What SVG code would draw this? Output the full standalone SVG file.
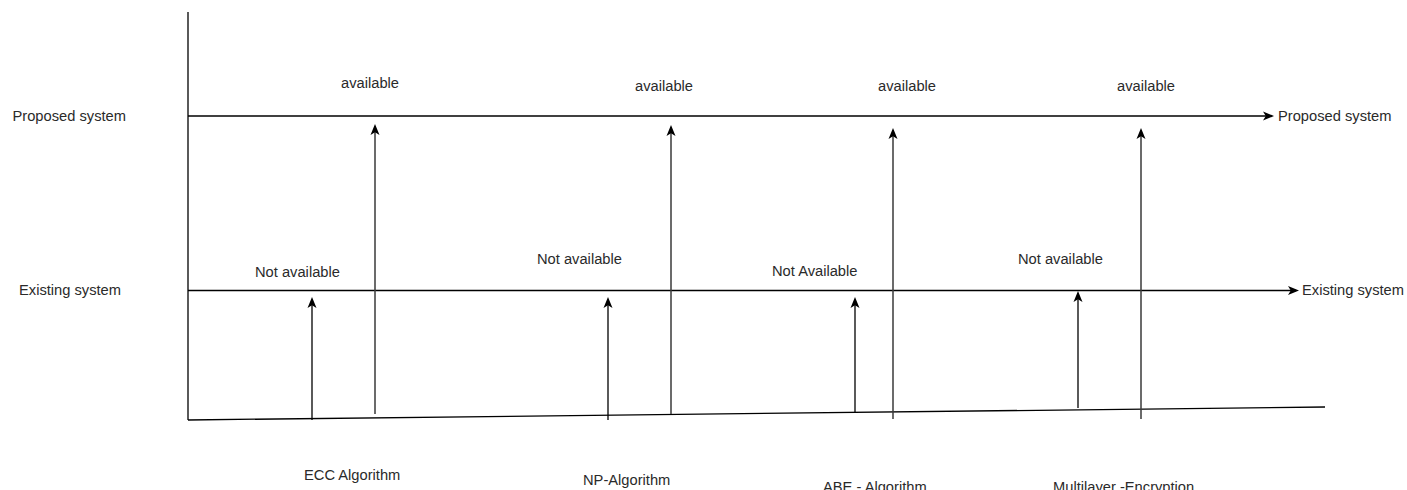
<svg xmlns="http://www.w3.org/2000/svg" width="1407" height="490" viewBox="0 0 1407 490">
<style>
text{font-family:"Liberation Sans",Arial,sans-serif;font-size:14.7px;fill:#2a2a2a}
.ln{stroke:#000;stroke-width:1.3;fill:none}
.ar{stroke:#000;stroke-width:1.3;fill:none;marker-end:url(#ah)}
.tall{stroke:#3a3a3a;stroke-width:1.5;fill:none;marker-end:url(#ah)}
</style>
<defs>
<marker id="ah" markerUnits="userSpaceOnUse" markerWidth="11" markerHeight="11" viewBox="0 0 11 11" refX="8" refY="5.5" orient="auto">
<path d="M0,1 L11,5.5 L0,10 L2.8,5.5 z" fill="#000"/>
</marker>
</defs>
<g id="axes">
<line class="ln" x1="188" y1="12" x2="188" y2="420"/>
<line class="ln" x1="188" y1="420" x2="1325" y2="407"/>
</g>
<g id="connectors">
<line class="ar" x1="188" y1="116" x2="1271" y2="116"/>
<line class="ar" x1="188" y1="290.5" x2="1296" y2="290.5"/>
<line class="ar" x1="312" y1="420" x2="312" y2="300"/>
<line class="tall" x1="375" y1="414" x2="375" y2="127"/>
<line class="ar" x1="608" y1="420" x2="608" y2="300"/>
<line class="tall" x1="671" y1="414" x2="671" y2="128"/>
<line class="ar" x1="855" y1="413" x2="855" y2="300"/>
<line class="tall" x1="893" y1="419" x2="893" y2="131"/>
<line class="ar" x1="1078" y1="408" x2="1078" y2="294"/>
<line class="tall" x1="1141" y1="419" x2="1141" y2="131"/>
</g>
<g id="label-proposed-left"><text x="12.5" y="121">Proposed system</text></g>
<g id="label-existing-left"><text x="19" y="295">Existing system</text></g>
<g id="label-proposed-right"><text x="1278" y="121">Proposed system</text></g>
<g id="label-existing-right"><text x="1302" y="295">Existing system</text></g>
<g id="avail-1"><text x="341" y="88">available</text></g>
<g id="avail-2"><text x="635" y="91">available</text></g>
<g id="avail-3"><text x="878" y="91">available</text></g>
<g id="avail-4"><text x="1117" y="91">available</text></g>
<g id="notavail-1"><text x="255" y="277">Not available</text></g>
<g id="notavail-2"><text x="537" y="264">Not available</text></g>
<g id="notavail-3"><text x="772" y="276">Not Available</text></g>
<g id="notavail-4"><text x="1018" y="264">Not available</text></g>
<g id="ecc"><text x="304" y="480">ECC Algorithm</text></g>
<g id="np"><text x="583" y="485">NP-Algorithm</text></g>
<g id="abe"><text x="823" y="492">ABE - Algorithm</text></g>
<g id="multilayer"><text x="1053" y="492">Multilayer -Encryption</text></g>
</svg>
